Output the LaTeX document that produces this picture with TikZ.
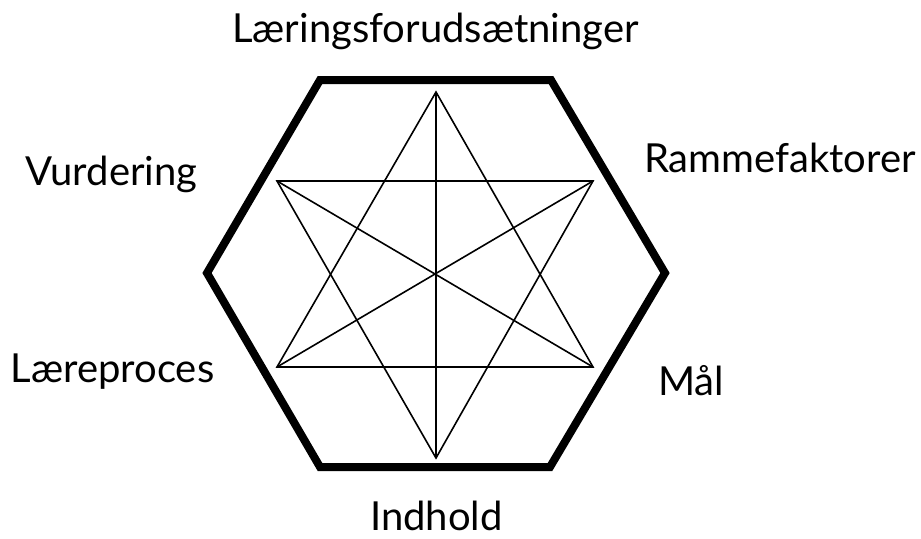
\documentclass[tikz,border=0pt]{standalone}
\usepackage{fontspec}
\setmainfont{Lato}
\usepackage{tikz}
\usetikzlibrary{positioning}

\begin{document}
\begin{tikzpicture}[
    x=0.5pt, y=-0.5pt,
    lbl/.style={anchor=base, inner sep=0pt, font=\fontsize{20pt}{24pt}\selectfont},
    hexline/.style={line width=4pt},
    starline/.style={line width=0.8pt}
]
    \useasboundingbox (0,0) rectangle (921,538);

    % Hexagon corners
    \coordinate (h1) at (320, 80);
    \coordinate (h2) at (551, 80);
    \coordinate (h3) at (665, 273);
    \coordinate (h4) at (550, 467);
    \coordinate (h5) at (320, 467);
    \coordinate (h6) at (207, 273);

    % Star points
    \coordinate (top) at (436, 92);
    \coordinate (ul) at (277, 181);
    \coordinate (ur) at (593, 181);
    \coordinate (ll) at (277, 367);
    \coordinate (lr) at (593, 367);
    \coordinate (bot) at (436, 458);

    % Labels
    \node[lbl] (forud) at (435.5, 42) {Læringsforudsætninger};
    \node[lbl] (vurd) at (111.5, 185) {Vurdering};
    \node[lbl] (ramme) at (780, 172) {Rammefaktorer};
    \node[lbl] (laere) at (112.5, 382) {Læreproces};
    \node[lbl] (maal) at (691, 395) {Mål};
    \node[lbl] (indhold) at (436.5, 530) {Indhold};

    % Outer hexagon
    \draw[hexline] (h1) -- (h2) -- (h3) -- (h4) -- (h5) -- (h6) -- cycle;

    % Two triangles
    \draw[starline] (top) -- (ll) -- (lr) -- cycle;
    \draw[starline] (bot) -- (ul) -- (ur) -- cycle;

    % Lines through the centre
    \draw[starline] (top) -- (bot);
    \draw[starline] (ul) -- (lr);
    \draw[starline] (ur) -- (ll);
\end{tikzpicture}
\end{document}
